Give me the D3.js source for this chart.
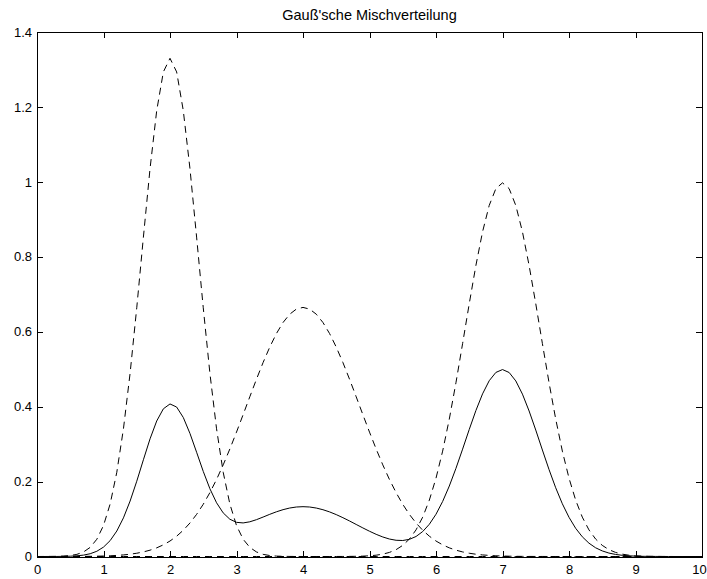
<!DOCTYPE html>
<html>
<head>
<meta charset="utf-8">
<script src="https://cdnjs.cloudflare.com/ajax/libs/d3/7.8.5/d3.min.js"></script>
<style>
	html, body { margin: 0; padding: 0; background: #fff; }
	svg { display: block; }
	.axis text { font-family: "Liberation Sans", Arial, Helvetica, sans-serif; font-size: 13px; fill: #000; }
	.axis path, .axis line { stroke: #000; stroke-width: 1; shape-rendering: crispEdges; }
	.title { font-family: "Liberation Sans", Arial, Helvetica, sans-serif; font-size: 14.5px; fill: #000; }
</style>
</head>
<body>
<svg id="chart"></svg>
<script>
// sample positions, step 0.1 from 0 to 10
const xs = [
	0.0,0.1,0.2,0.3,0.4,0.5,0.6,0.7,0.8,0.9,
	1.0,1.1,1.2,1.3,1.4,1.5,1.6,1.7,1.8,1.9,
	2.0,2.1,2.2,2.3,2.4,2.5,2.6,2.7,2.8,2.9,
	3.0,3.1,3.2,3.3,3.4,3.5,3.6,3.7,3.8,3.9,
	4.0,4.1,4.2,4.3,4.4,4.5,4.6,4.7,4.8,4.9,
	5.0,5.1,5.2,5.3,5.4,5.5,5.6,5.7,5.8,5.9,
	6.0,6.1,6.2,6.3,6.4,6.5,6.6,6.7,6.8,6.9,
	7.0,7.1,7.2,7.3,7.4,7.5,7.6,7.7,7.8,7.9,
	8.0,8.1,8.2,8.3,8.4,8.5,8.6,8.7,8.8,8.9,
	9.0,9.1,9.2,9.3,9.4,9.5,9.6,9.7,9.8,9.9,
	10.0
];

// component around x=2 (dashed)
const comp1 = [
	0,0.0001,0.0002,0.0004,0.0011,0.0026,0.0057,0.0122,0.0244,0.0461,
	0.0827,0.1402,0.2248,0.3409,0.4892,0.6640,0.8526,1.0357,1.1900,1.2934,
	1.3298,1.2934,1.1900,1.0357,0.8526,0.6640,0.4892,0.3409,0.2248,0.1402,
	0.0827,0.0461,0.0244,0.0122,0.0057,0.0026,0.0011,0.0004,0.0002,0.0001,
	0,0,0,0,0,0,0,0,0,0,
	0,0,0,0,0,0,0,0,0,0,
	0,0,0,0,0,0,0,0,0,0,
	0,0,0,0,0,0,0,0,0,0,
	0,0,0,0,0,0,0,0,0,0,
	0,0,0,0,0,0,0,0,0,0,
	0
];

// component around x=4 (dashed)
const comp2 = [
	0,0,0,0,0.0001,0.0001,0.0002,0.0003,0.0005,0.0008,
	0.0013,0.0019,0.0029,0.0042,0.0061,0.0087,0.0122,0.0169,0.0231,0.0311,
	0.0413,0.0542,0.0701,0.0894,0.1124,0.1394,0.1705,0.2056,0.2446,0.2870,
	0.3320,0.3788,0.4263,0.4731,0.5178,0.5589,0.5950,0.6246,0.6467,0.6603,
	0.6649,0.6603,0.6467,0.6246,0.5950,0.5589,0.5178,0.4731,0.4263,0.3788,
	0.3320,0.2870,0.2446,0.2056,0.1705,0.1394,0.1124,0.0894,0.0701,0.0542,
	0.0413,0.0311,0.0231,0.0169,0.0122,0.0087,0.0061,0.0042,0.0029,0.0019,
	0.0013,0.0008,0.0005,0.0003,0.0002,0.0001,0.0001,0,0,0,
	0,0,0,0,0,0,0,0,0,0,
	0,0,0,0,0,0,0,0,0,0,
	0
];

// component around x=7 (dashed)
const comp3 = [
	0,0,0,0,0,0,0,0,0,0,
	0,0,0,0,0,0,0,0,0,0,
	0,0,0,0,0,0,0,0,0,0,
	0,0,0,0,0,0,0,0,0,0,
	0,0,0,0,0,0.0001,0.0001,0.0003,0.0005,0.0010,
	0.0019,0.0035,0.0063,0.0109,0.0183,0.0297,0.0466,0.0711,0.1051,0.1506,
	0.2091,0.2813,0.3669,0.4638,0.5683,0.6749,0.7768,0.8666,0.9370,0.9819,
	0.9974,0.9819,0.9370,0.8666,0.7768,0.6749,0.5683,0.4638,0.3669,0.2813,
	0.2091,0.1506,0.1051,0.0711,0.0466,0.0297,0.0183,0.0109,0.0063,0.0035,
	0.0019,0.0010,0.0005,0.0003,0.0001,0.0001,0,0,0,0,
	0
];

// mixture (solid)
const mixture = [
	0,0,0.0001,0.0001,0.0004,0.0008,0.0018,0.0037,0.0074,0.0140,
	0.0251,0.0424,0.0680,0.1031,0.1480,0.2009,0.2582,0.3141,0.3616,0.3942,
	0.4072,0.3989,0.3710,0.3286,0.2783,0.2271,0.1809,0.1434,0.1164,0.0995,
	0.0912,0.0896,0.0926,0.0983,0.1053,0.1126,0.1193,0.1250,0.1294,0.1321,
	0.1330,0.1321,0.1293,0.1249,0.1190,0.1118,0.1036,0.0948,0.0855,0.0763,
	0.0674,0.0592,0.0521,0.0466,0.0433,0.0427,0.0458,0.0534,0.0666,0.0861,
	0.1128,0.1469,0.1881,0.2353,0.2866,0.3392,0.3896,0.4341,0.4691,0.4913,
	0.4990,0.4911,0.4686,0.4334,0.3884,0.3375,0.2842,0.2319,0.1835,0.1407,
	0.1046,0.0753,0.0526,0.0356,0.0233,0.0149,0.0092,0.0055,0.0032,0.0018,
	0.0010,0.0005,0.0003,0.0002,0.0001,0,0,0,0,0,
	0
];

const xTicks = [0,1,2,3,4,5,6,7,8,9,10];
const yTicks = [0,0.2,0.4,0.6,0.8,1,1.2,1.4];
const title = "Gauß'sche Mischverteilung";

main();

function main() {
	const W = 707, H = 579,
		margin = {top: 32, right: 5, bottom: 22.5, left: 37},
		width = W - margin.left - margin.right,
		height = H - margin.top - margin.bottom;

	const svg = d3.select('#chart')
			.attr('width', W)
			.attr('height', H)
			.append('g')
			.attr('transform', `translate(${margin.left},${margin.top})`);

	const x = d3.scaleLinear().domain([0, 10]).range([0, width]),
		y = d3.scaleLinear().domain([0, 1.4]).range([height, 0]);

	// ticks point inward on all four sides, like the original
	svg.append('g')
		.attr('class', 'axis axis--x')
		.attr('transform', `translate(0,${height})`)
		.call(d3.axisBottom(x).tickValues(xTicks).tickSizeInner(-6).tickSizeOuter(0).tickPadding(8));

	// last label sits at the window edge; nudge it in so it stays readable
	svg.selectAll('.axis--x .tick text')
		.filter(d => d === 10)
		.attr('dx', -3);

	svg.append('g')
		.attr('class', 'axis axis--top')
		.call(d3.axisTop(x).tickValues(xTicks).tickSizeInner(-6).tickSizeOuter(0).tickFormat(''));

	svg.append('g')
		.attr('class', 'axis axis--y')
		.call(d3.axisLeft(y).tickValues(yTicks).tickSizeInner(-6).tickSizeOuter(0).tickPadding(5).tickFormat(d3.format('~g')));

	svg.append('g')
		.attr('class', 'axis axis--right')
		.attr('transform', `translate(${width},0)`)
		.call(d3.axisRight(y).tickValues(yTicks).tickSizeInner(-6).tickSizeOuter(0).tickFormat(''));

	svg.append('text')
		.attr('class', 'title')
		.attr('x', width / 2)
		.attr('y', -12)
		.attr('text-anchor', 'middle')
		.text(title);

	const line = ys => d3.line()
		.x((d, i) => x(xs[i]))
		.y(d => y(d))(ys);

	[comp1, comp2, comp3].forEach(c => {
		svg.append('path')
			.attr('d', line(c))
			.attr('fill', 'none')
			.attr('stroke', '#000')
			.attr('stroke-width', 1)
			.attr('stroke-dasharray', '7,5');
	});

	svg.append('path')
		.attr('d', line(mixture))
		.attr('fill', 'none')
		.attr('stroke', '#000')
		.attr('stroke-width', 1);
}
</script>
</body>
</html>
